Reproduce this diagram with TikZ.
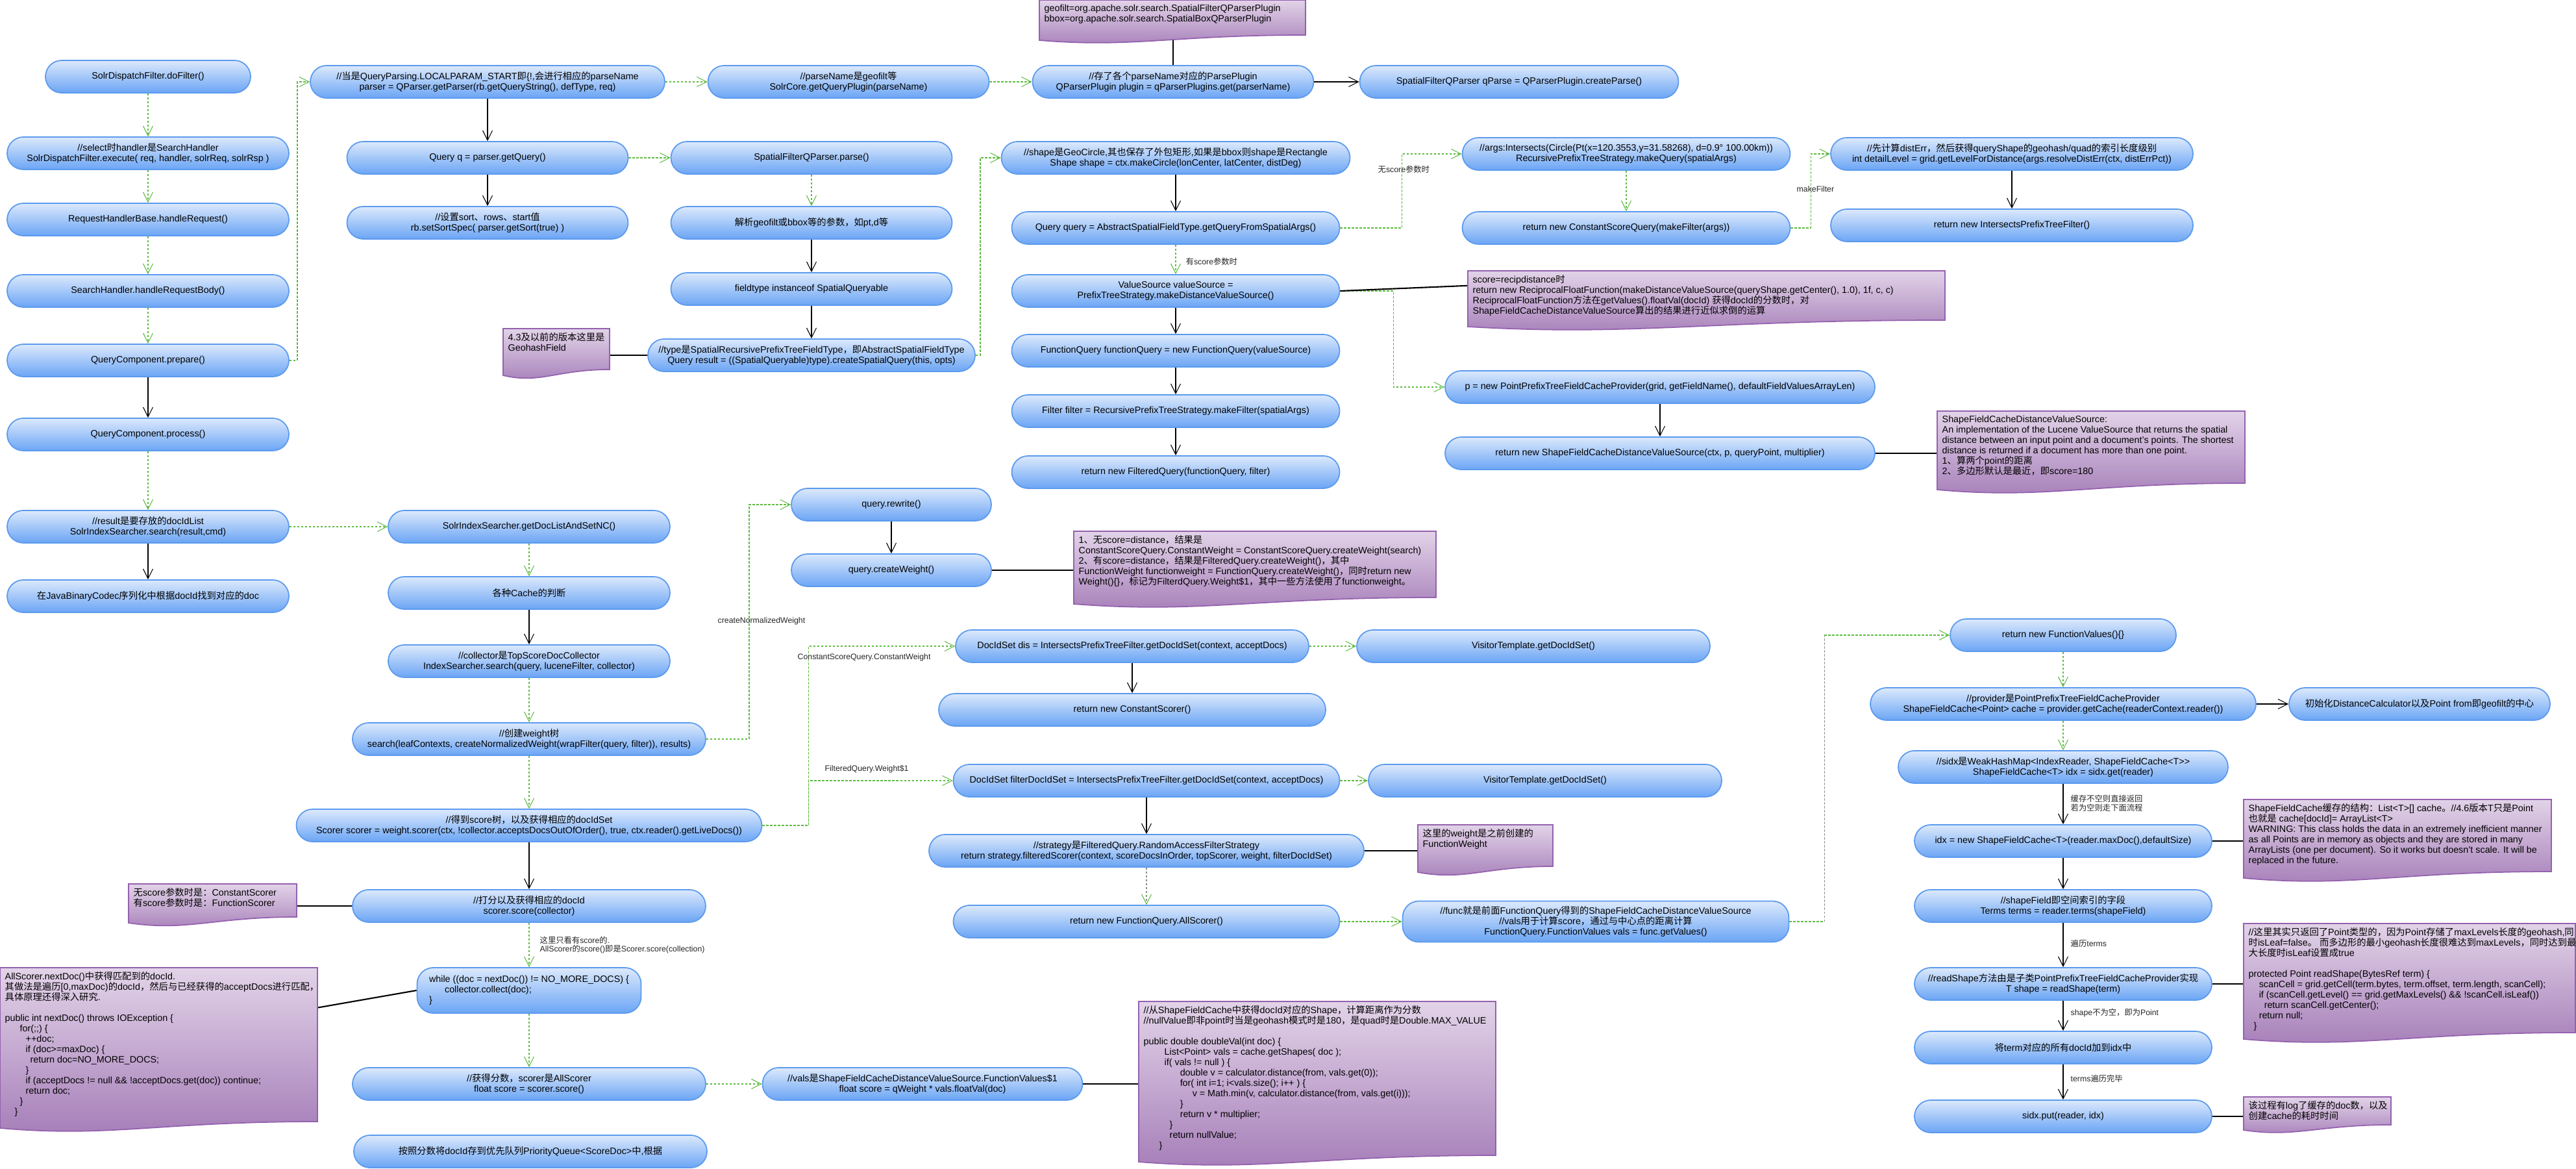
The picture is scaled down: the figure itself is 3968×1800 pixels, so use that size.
\documentclass[tikz,border=0pt]{standalone}
\usepackage{fontspec}
\setmainfont{Liberation Sans}
\newfontfamily\cjkfont{Noto Sans CJK SC}
\newfontfamily\latfont{Liberation Sans}
\usetikzlibrary{arrows.meta,calc}
\XeTeXinterchartokenstate=1
\newXeTeXintercharclass\cjkcls
\newcount\cjkc
\cjkc="3000
\loop \XeTeXcharclass\cjkc=\cjkcls \ifnum\cjkc<"303F \advance\cjkc by 1 \repeat
\cjkc="4E00
\loop \XeTeXcharclass\cjkc=\cjkcls \ifnum\cjkc<"9FFF \advance\cjkc by 1 \repeat
\cjkc="FF00
\loop \XeTeXcharclass\cjkc=\cjkcls \ifnum\cjkc<"FFEF \advance\cjkc by 1 \repeat
\XeTeXinterchartoks 0 \cjkcls = {\cjkfont}
\XeTeXinterchartoks 4095 \cjkcls = {\cjkfont}
\XeTeXinterchartoks \cjkcls 0 = {\latfont}
\XeTeXinterchartoks \cjkcls 4095 = {\latfont}
\newcommand\nodefont{\fontsize{4.07pt}{4.55pt}\selectfont}
\newcommand\lblfont{\fontsize{3.5pt}{3.85pt}\selectfont}
\definecolor{pilltop}{HTML}{DCE9FC}
\definecolor{pillbot}{HTML}{6BA5F5}
\definecolor{pillbd}{HTML}{5B9AEE}
\definecolor{notetop}{HTML}{E2D3E8}
\definecolor{notebot}{HTML}{A57DB8}
\definecolor{notebd}{HTML}{9461AE}
\definecolor{gl}{HTML}{5DBB3F}
\tikzset{
 pill/.style={rectangle, rounded corners=0.25cm, draw=pillbd, line width=0.5pt, top color=pilltop, bottom color=pillbot, minimum height=0.5cm, inner xsep=0.08cm, inner ysep=0.02cm, align=center, font=\nodefont, text=black},
 wd/.style={minimum width=#1*0.01cm},
 vtip/.style={-{Straight Barb[length=0.15cm,width=0.15cm,line width=0.3pt]}},
 gd/.style={draw=gl, line width=0.45pt, dash pattern=on 0.035cm off 0.025cm, vtip},
 grayd/.style={draw=black!45, line width=0.4pt, dash pattern=on 0.035cm off 0.025cm},
 bl/.style={draw=black, line width=0.35pt, vtip},
 nl/.style={draw=black, line width=0.6pt},
 lbl/.style={font=\lblfont, inner sep=0, anchor=west, align=left, text=black!85},
 nrect/.style 2 args={rectangle, inner sep=0, outer sep=0, minimum width=#1*0.01cm, minimum height=#2*0.01cm, anchor=north west},
 nfill/.style={draw=notebd, line width=0.5pt, top color=notetop, bottom color=notebot},
 ntxt/.style={anchor=north west, inner xsep=0.07cm, inner ysep=0.06cm, align=left, font=\nodefont, text=black}
}
\newcommand\docshape[2]{\path[nfill] (#1.north west) -- (#1.north east) -- (#1.south east) .. controls ($(#1.south east)!0.5!(#1.south west)$) and ($(#1.south east)!0.65!(#1.south west)+(0,#2*2.5)$) .. ($(#1.south west)+(0,#2)$) -- cycle;}
\begin{document}
\begin{tikzpicture}[x=0.01cm,y=-0.01cm]
\useasboundingbox (0,0) rectangle (3968,1800);
\fill[white] (0,0) rectangle (3968,1800);
% column A
\node[pill, wd=316] (A1) at (228,118) {SolrDispatchFilter.doFilter()};
\node[pill, wd=434] (A2) at (228,236) {//select时handler是SearchHandler\\SolrDispatchFilter.execute( req, handler, solrReq, solrRsp )};
\node[pill, wd=434] (A3) at (228,338) {RequestHandlerBase.handleRequest()};
\node[pill, wd=434] (A4) at (228,448) {SearchHandler.handleRequestBody()};
\node[pill, wd=434] (A5) at (228,555) {QueryComponent.prepare()};
\node[pill, wd=434] (A6) at (228,669) {QueryComponent.process()};
\node[pill, wd=434] (A7) at (228,811) {//result是要存放的docIdList\\SolrIndexSearcher.search(result,cmd)};
\node[pill, wd=434] (A8) at (228,918) {在JavaBinaryCodec序列化中根据docId找到对应的doc};
% column B
\node[pill, wd=546] (B1) at (751,126) {//当是QueryParsing.LOCALPARAM\_START即\{!,会进行相应的parseName\\parser = QParser.getParser(rb.getQueryString(), defType, req)};
\node[pill, wd=433] (B2) at (751,243) {Query q = parser.getQuery()};
\node[pill, wd=433] (B3) at (751,343) {//设置sort、rows、start值\\rb.setSortSpec( parser.getSort(true) )};
\node[pill, wd=433] (B4) at (1307,126) {//parseName是geofilt等\\SolrCore.getQueryPlugin(parseName)};
\node[pill, wd=433] (B5) at (1807,126) {//存了各个parseName对应的ParsePlugin\\QParserPlugin plugin = qParserPlugins.get(parserName)};
\node[pill, wd=491] (B6) at (2340,126) {SpatialFilterQParser qParse = QParserPlugin.createParse()};
% column C
\node[pill, wd=433] (C1) at (1250,243) {SpatialFilterQParser.parse()};
\node[pill, wd=433] (C2) at (1250,343) {解析geofilt或bbox等的参数，如pt,d等};
\node[pill, wd=433] (C3) at (1250,445) {fieldtype instanceof SpatialQueryable};
\node[pill, wd=504] (C4) at (1250,547) {//type是SpatialRecursivePrefixTreeFieldType，即AbstractSpatialFieldType\\Query result = ((SpatialQueryable)type).createSpatialQuery(this, opts)};
% column D
\node[pill, wd=537] (D1) at (1811,243) {//shape是GeoCircle,其也保存了外包矩形,如果是bbox则shape是Rectangle\\Shape shape = ctx.makeCircle(lonCenter, latCenter, distDeg)};
\node[pill, wd=505] (D2) at (1811,351) {Query query = AbstractSpatialFieldType.getQueryFromSpatialArgs()};
\node[pill, wd=505] (D3) at (1811,448) {ValueSource valueSource =\\PrefixTreeStrategy.makeDistanceValueSource()};
\node[pill, wd=505] (D4) at (1811,540) {FunctionQuery functionQuery = new FunctionQuery(valueSource)};
\node[pill, wd=505] (D5) at (1811,633) {Filter filter = RecursivePrefixTreeStrategy.makeFilter(spatialArgs)};
\node[pill, wd=505] (D6) at (1811,727) {return new FilteredQuery(functionQuery, filter)};
% column E
\node[pill, wd=505] (E1) at (2505,237) {//args:Intersects(Circle(Pt(x=120.3553,y=31.58268), d=0.9° 100.00km))\\RecursivePrefixTreeStrategy.makeQuery(spatialArgs)};
\node[pill, wd=505] (E2) at (2505,351) {return new ConstantScoreQuery(makeFilter(args))};
\node[pill, wd=558] (E3) at (3099,237) {//先计算distErr，然后获得queryShape的geohash/quad的索引长度级别\\int detailLevel = grid.getLevelForDistance(args.resolveDistErr(ctx, distErrPct))};
\node[pill, wd=558] (E4) at (3099,347) {return new IntersectsPrefixTreeFilter()};
% column F
\node[pill, wd=662] (F1) at (2557,596) {p = new PointPrefixTreeFieldCacheProvider(grid, getFieldName(), defaultFieldValuesArrayLen)};
\node[pill, wd=662] (F2) at (2557,698) {return new ShapeFieldCacheDistanceValueSource(ctx, p, queryPoint, multiplier)};
% column G
\node[pill, wd=434] (G1) at (815,811) {SolrIndexSearcher.getDocListAndSetNC()};
\node[pill, wd=434] (G2) at (815,913) {各种Cache的判断};
\node[pill, wd=434] (G3) at (815,1018) {//collector是TopScoreDocCollector\\IndexSearcher.search(query, luceneFilter, collector)};
\node[pill, wd=544] (G4) at (815,1138) {//创建weight树\\search(leafContexts, createNormalizedWeight(wrapFilter(query, filter)), results)};
\node[pill, wd=717] (G5) at (815,1271) {//得到score树，以及获得相应的docIdSet\\Scorer scorer = weight.scorer(ctx, !collector.acceptsDocsOutOfOrder(), true, ctx.reader().getLiveDocs())};
\node[pill, wd=544] (G6) at (815,1395) {//打分以及获得相应的docId\\scorer.score(collector)};
\node[pill, wd=345, minimum height=0.7cm, align=left] (G7) at (815,1525) {while ((doc = nextDoc()) != NO\_MORE\_DOCS) \{\\\hspace*{0.24cm}collector.collect(doc);\\\}};
\node[pill, wd=544] (G8) at (815,1669) {//获得分数，scorer是AllScorer\\float score = scorer.score()};
\node[pill, wd=544] (G9) at (817,1773) {按照分数将docId存到优先队列PriorityQueue<ScoreDoc>中,根据};
\node[pill, wd=493] (G10) at (1421,1669) {//vals是ShapeFieldCacheDistanceValueSource.FunctionValues\$1\\float score = qWeight * vals.floatVal(doc)};
% column H
\node[pill, wd=308] (H1) at (1373,777) {query.rewrite()};
\node[pill, wd=308] (H2) at (1373,878) {query.createWeight()};
\node[pill, wd=544] (H3) at (1744,995) {DocIdSet dis = IntersectsPrefixTreeFilter.getDocIdSet(context, acceptDocs)};
\node[pill, wd=544] (H4) at (2362,995) {VisitorTemplate.getDocIdSet()};
\node[pill, wd=596] (H5) at (1744,1093) {return new ConstantScorer()};
\node[pill, wd=595] (H6) at (1766,1202) {DocIdSet filterDocIdSet = IntersectsPrefixTreeFilter.getDocIdSet(context, acceptDocs)};
\node[pill, wd=544] (H7) at (2380,1202) {VisitorTemplate.getDocIdSet()};
\node[pill, wd=670] (H8) at (1766,1310) {//strategy是FilteredQuery.RandomAccessFilterStrategy\\return strategy.filteredScorer(context, scoreDocsInOrder, topScorer, weight, filterDocIdSet)};
\node[pill, wd=595] (H9) at (1766,1419) {return new FunctionQuery.AllScorer()};
\node[pill, wd=595, minimum height=0.63cm] (H10) at (2458,1419) {//func就是前面FunctionQuery得到的ShapeFieldCacheDistanceValueSource\\//vals用于计算score，通过与中心点的距离计算\\FunctionQuery.FunctionValues vals = func.getValues()};
% column R
\node[pill, wd=348] (R1) at (3178,978) {return new FunctionValues()\{\}};
\node[pill, wd=594] (R2) at (3178,1084) {//provider是PointPrefixTreeFieldCacheProvider\\ShapeFieldCache<Point> cache = provider.getCache(readerContext.reader())};
\node[pill, wd=402] (R3) at (3727,1084) {初始化DistanceCalculator以及Point from即geofilt的中心};
\node[pill, wd=508] (R4) at (3178,1181) {//sidx是WeakHashMap<IndexReader, ShapeFieldCache<T>>\\ShapeFieldCache<T> idx = sidx.get(reader)};
\node[pill, wd=458] (R5) at (3178,1295) {idx = new ShapeFieldCache<T>(reader.maxDoc(),defaultSize)};
\node[pill, wd=458] (R6) at (3178,1395) {//shapeField即空间索引的字段\\Terms terms = reader.terms(shapeField)};
\node[pill, wd=458] (R7) at (3178,1515) {//readShape方法由是子类PointPrefixTreeFieldCacheProvider实现\\T shape = readShape(term)};
\node[pill, wd=458] (R8) at (3178,1613) {将term对应的所有docId加到idx中};
\node[pill, wd=458] (R9) at (3178,1719) {sidx.put(reader, idx)};
% note frames (invisible anchors)
\node[nrect={410}{54}] (N1) at (1601,0) {};
\node[nrect={164}{63}] (N2) at (775,506) {};
\node[nrect={735}{76}] (N3) at (2261,417) {};
\node[nrect={474}{111}] (N4) at (2984,633) {};
\node[nrect={558}{102}] (N5) at (1654,818) {};
\node[nrect={208}{64}] (N6) at (2184,1270) {};
\node[nrect={259}{51}] (N7) at (198,1361) {};
\node[nrect={489}{237}] (N8) at (0,1490) {};
\node[nrect={550}{237}] (N9) at (1754,1542) {};
\node[nrect={474}{111}] (N10) at (3456,1231) {};
\node[nrect={511}{168}] (N11) at (3456,1422) {};
\node[nrect={227}{43}] (N12) at (3456,1689) {};
% green dashed connectors
\draw[gd] (A1) -- (A2);
\draw[gd] (A2) -- (A3);
\draw[gd] (A3) -- (A4);
\draw[gd] (A4) -- (A5);
\draw[gd] (A6) -- (A7);
\draw[gd] (A5.east) -- ++(12,0) |- (B1.west);
\draw[gd] (A7) -- (G1);
\draw[gd] (B1) -- (B4);
\draw[gd] (B4) -- (B5);
\draw[gd] (B2) -- (C1);
\draw[gd] (C1) -- (C2);
\draw[gd] (C4.east) -- ++(7,0) |- (D1.west);
\draw[gd] (D2) -- (D3);
\draw[gd] (D2.east) -- ++(95,0) |- (E1.west);
\draw[gd] (E1) -- (E2);
\draw[gd] (E2.east) -- ++(31,0) |- (E3.west);
\draw[gd] (D3.east) -- ++(82,0) |- (F1.west);
\draw[gd] (G1) -- (G2);
\draw[gd] (G3) -- (G4);
\draw[gd] (G4) -- (G5);
\draw[gd] (G4.east) -- ++(66,0) |- (H1.west);
\draw[gd] (G5.east) -- ++(71,0) coordinate (g5k) |- (H3.west);
\draw[gd] (g5k) |- (H6.west);
\draw[gd] (H3) -- (H4);
\draw[gd] (H6) -- (H7);
\draw[grayd, -{Straight Barb[length=0.15cm,width=0.15cm,line width=0.3pt,color=gl]}] (H8) -- (H9);
\draw[gd] (H9) -- (H10);
\draw[gd, -] (H10.east) -- ++(54,0) coordinate (h10k);
\draw[grayd] (h10k) -- (h10k |- R1.west) coordinate (h10t);
\draw[gd] (h10t) -- (R1.west);
\draw[gd] (G6) -- (G7);
\draw[gd] (G7) -- (G8);
\draw[gd] (G8) -- (G10);
\draw[gd] (R1) -- (R2);
\draw[gd] (R2) -- (R4);
% black connectors
\draw[bl] (A5) -- (A6);
\draw[bl] (A7) -- (A8);
\draw[bl] (B1) -- (B2);
\draw[bl] (B2) -- (B3);
\draw[bl] (B5) -- (B6);
\draw[bl] (C2) -- (C3);
\draw[bl] (C3) -- (C4);
\draw[bl] (D1) -- (D2);
\draw[bl] (D3) -- (D4);
\draw[bl] (D4) -- (D5);
\draw[bl] (D5) -- (D6);
\draw[bl] (E3) -- (E4);
\draw[bl] (F1) -- (F2);
\draw[bl] (G2) -- (G3);
\draw[bl] (G5) -- (G6);
\draw[bl] (H1) -- (H2);
\draw[bl] (H3) -- (H5);
\draw[bl] (H6) -- (H8);
\draw[bl] (R2) -- (R3);
\draw[bl] (R4) -- (R5);
\draw[bl] (R5) -- (R6);
\draw[bl] (R6) -- (R7);
\draw[bl] (R7) -- (R8);
\draw[bl] (R8) -- (R9);
% edge labels
\node[lbl] (L1) at (1826,403) {有score参数时};
\node[lbl] (L2) at (2122,261) {无score参数时};
\node[lbl] (L3) at (2767,291) {makeFilter};
\node[lbl] (L4) at (1105,956) {createNormalizedWeight};
\node[lbl] (L5) at (1228,1012) {ConstantScoreQuery.ConstantWeight};
\node[lbl] (L6) at (1270,1184) {FilteredQuery.Weight\$1};
\node[lbl] (L7) at (831,1455) {这里只看有score的.\\AllScorer的score()即是Scorer.score(collection)};
\node[lbl] (L8) at (3189,1237) {缓存不空则直接返回\\若为空则走下面流程};
\node[lbl] (L9) at (3189,1453) {遍历terms};
\node[lbl] (L10) at (3189,1560) {shape不为空，即为Point};
\node[lbl] (L11) at (3189,1661) {terms遍历完毕};
% note connectors
\draw[nl] (B5.north) -- (B5.north |- N1.south);
\draw[nl] (C4.west) -- (C4.west -| N2.east);
\draw[nl] (D3.east) -- ($(N3.north west)!0.3!(N3.south west)$);
\draw[nl] (F2.east) -- (F2.east -| N4.west);
\draw[nl] (H2.east) -- (H2.east -| N5.west);
\draw[nl] (H8.east) -- (H8.east -| N6.west);
\draw[nl] (G6.west) -- (G6.west -| N7.east);
\draw[nl] (G7.west) -- ($(N8.north east)!0.26!(N8.south east)$);
\draw[nl] (G10.east) -- (G10.east -| N9.west);
\draw[nl] (R5.east) -- (R5.east -| N10.west);
\draw[nl] (R7.east) -- (R7.east -| N11.west);
\draw[nl] (R9.east) -- (R9.east -| N12.west);
% notes
\docshape{N1}{8}
\node[ntxt] (T1) at (N1.north west) {geofilt=org.apache.solr.search.SpatialFilterQParserPlugin\\bbox=org.apache.solr.search.SpatialBoxQParserPlugin};
\docshape{N2}{9}
\node[ntxt] (T2) at (N2.north west) {4.3及以前的版本这里是\\GeohashField};
\docshape{N3}{10}
\node[ntxt] (T3) at (N3.north west) {score=recipdistance时\\return new ReciprocalFloatFunction(makeDistanceValueSource(queryShape.getCenter(), 1.0), 1f, c, c)\\ReciprocalFloatFunction方法在getValues().floatVal(docId) 获得docId的分数时，对\\ShapeFieldCacheDistanceValueSource算出的结果进行近似求倒的运算};
\docshape{N4}{10}
\node[ntxt] (T4) at (N4.north west) {ShapeFieldCacheDistanceValueSource:\\An implementation of the Lucene ValueSource that returns the spatial\\distance between an input point and a document's points. The shortest\\distance is returned if a document has more than one point.\\1、算两个point的距离\\2、多边形默认是最近，即score=180};
\docshape{N5}{10}
\node[ntxt] (T5) at (N5.north west) {1、无score=distance，结果是\\ConstantScoreQuery.ConstantWeight = ConstantScoreQuery.createWeight(search)\\2、有score=distance，结果是FilteredQuery.createWeight()，其中\\FunctionWeight functionweight = FunctionQuery.createWeight()，同时return new\\Weight()\{\}，标记为FilterdQuery.Weight\$1，其中一些方法使用了functionweight。};
\docshape{N6}{9}
\node[ntxt] (T6) at (N6.north west) {这里的weight是之前创建的\\FunctionWeight};
\docshape{N7}{9}
\node[ntxt] (T7) at (N7.north west) {无score参数时是：ConstantScorer\\有score参数时是：FunctionScorer};
\docshape{N8}{10}
\node[ntxt] (T8) at (N8.north west) {AllScorer.nextDoc()中获得匹配到的docId.\\其做法是遍历[0,maxDoc)的docId，然后与已经获得的acceptDocs进行匹配，\\具体原理还得深入研究.\\\mbox{}\\public int nextDoc() throws IOException \{\\\hspace*{0.23cm}for(;;) \{\\\hspace*{0.32cm}++doc;\\\hspace*{0.32cm}if (doc>=maxDoc) \{\\\hspace*{0.39cm}return doc=NO\_MORE\_DOCS;\\\hspace*{0.32cm}\}\\\hspace*{0.32cm}if (acceptDocs != null \&\& !acceptDocs.get(doc)) continue;\\\hspace*{0.32cm}return doc;\\\hspace*{0.23cm}\}\\\hspace*{0.15cm}\}};
\docshape{N9}{10}
\node[ntxt] (T9) at (N9.north west) {//从ShapeFieldCache中获得docId对应的Shape，计算距离作为分数\\//nullValue即非point时当是geohash模式时是180，是quad时是Double.MAX\_VALUE\\\mbox{}\\public double doubleVal(int doc) \{\\\hspace*{0.32cm}List<Point> vals = cache.getShapes( doc );\\\hspace*{0.32cm}if( vals != null ) \{\\\hspace*{0.56cm}double v = calculator.distance(from, vals.get(0));\\\hspace*{0.56cm}for( int i=1; i<vals.size(); i++ ) \{\\\hspace*{0.75cm}v = Math.min(v, calculator.distance(from, vals.get(i)));\\\hspace*{0.56cm}\}\\\hspace*{0.56cm}return v * multiplier;\\\hspace*{0.40cm}\}\\\hspace*{0.40cm}return nullValue;\\\hspace*{0.24cm}\}};
\docshape{N10}{10}
\node[ntxt] (T10) at (N10.north west) {ShapeFieldCache缓存的结构：List<T>[] cache。//4.6版本T只是Point\\也就是 cache[docId]= ArrayList<T>\\WARNING: This class holds the data in an extremely inefficient manner\\as all Points are in memory as objects and they are stored in many\\ArrayLists (one per document).  So it works but doesn't scale.  It will be\\replaced in the future.};
\docshape{N11}{10}
\node[ntxt] (T11) at (N11.north west) {//这里其实只返回了Point类型的，因为Point存储了maxLevels长度的geohash,同\\时isLeaf=false。 而多边形的最小geohash长度很难达到maxLevels，同时达到最\\大长度时isLeaf设置成true\\\mbox{}\\protected Point readShape(BytesRef term) \{\\\hspace*{0.16cm}scanCell = grid.getCell(term.bytes, term.offset, term.length, scanCell);\\\hspace*{0.16cm}if (scanCell.getLevel() == grid.getMaxLevels() \&\& !scanCell.isLeaf())\\\hspace*{0.24cm}return scanCell.getCenter();\\\hspace*{0.16cm}return null;\\\hspace*{0.08cm}\}};
\docshape{N12}{8}
\node[ntxt] (T12) at (N12.north west) {该过程有log了缓存的doc数，以及\\创建cache的耗时时间};
\end{tikzpicture}
\end{document}
